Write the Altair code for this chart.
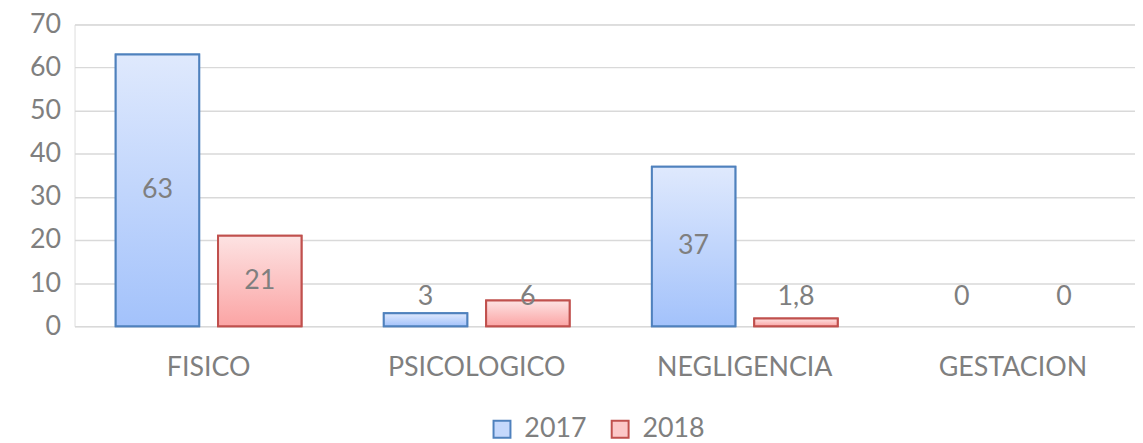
import altair as alt
import pandas as pd

categories = ["FISICO", "PSICOLOGICO", "NEGLIGENCIA", "GESTACION"]
years = ["2017", "2018"]
values_2017 = [63, 3, 37, 0]
values_2018 = [21, 6, 1.8, 0]
labels_2017 = ["63", "3", "37", "0"]
labels_2018 = ["21", "6", "1,8", "0"]
y_ticks = [0, 10, 20, 30, 40, 50, 60, 70]

rows = []
for cat, v, lab in zip(categories, values_2017, labels_2017):
    rows.append({"cat": cat, "year": "2017", "value": v, "label": lab})
for cat, v, lab in zip(categories, values_2018, labels_2018):
    rows.append({"cat": cat, "year": "2018", "value": v, "label": lab})
df = pd.DataFrame(rows)
# label position: centered inside tall bars, above short ones
df["pos"] = df["value"].apply(lambda v: max(v / 2.0, 6.7))

FONT = "Lato"
FS = 27
GRAY = "#7f7f7f"
blue_stroke = "#4f81bd"
red_stroke = "#c0504d"
grad_blue = {"gradient": "linear", "x1": 0, "y1": 0, "x2": 0, "y2": 1,
             "stops": [{"offset": 0, "color": "#dfe9fd"}, {"offset": 1, "color": "#a3c2fb"}]}
grad_red = {"gradient": "linear", "x1": 0, "y1": 0, "x2": 0, "y2": 1,
            "stops": [{"offset": 0, "color": "#fde3e3"}, {"offset": 1, "color": "#fba4a4"}]}

x_enc = alt.X("cat:N", sort=categories,
              scale=alt.Scale(paddingInner=0.307, paddingOuter=0.1313, align=0.585),
              axis=alt.Axis(title=None, domain=False, ticks=False, labelAngle=0,
                            labelFont=FONT, labelFontSize=FS, labelColor=GRAY,
                            labelPadding=29))
xo_enc = alt.XOffset("year:N", sort=years, scale=alt.Scale(paddingInner=0.1845, paddingOuter=0))
y_enc = alt.Y("value:Q", scale=alt.Scale(domain=[0, 70], nice=False),
              axis=alt.Axis(title=None, values=y_ticks, domain=False, ticks=False,
                            grid=True, gridColor="#d9d9d9", gridWidth=1.5,
                            labelFont=FONT, labelFontSize=FS, labelColor=GRAY,
                            labelPadding=14))

base = alt.Chart(df)

legend_bars = base.transform_filter("datum.value > 0").mark_bar(strokeWidth=2).encode(
    x=x_enc, xOffset=xo_enc, y=y_enc,
    fill=alt.Fill("year:N", sort=years, title=None,
                  scale=alt.Scale(domain=years, range=["#c5d8fc", "#fcc8c8"]),
                  legend=alt.Legend(orient="none", legendX=417, legendY=394,
                                    direction="horizontal", symbolType="square",
                                    symbolSize=290, symbolStrokeWidth=2,
                                    labelFont=FONT, labelFontSize=FS, labelColor=GRAY,
                                    labelOffset=9, columnPadding=20, padding=0)),
    stroke=alt.Stroke("year:N", sort=years, title=None,
                      scale=alt.Scale(domain=years, range=[blue_stroke, red_stroke])),
)

bars_2017 = base.transform_filter("datum.year == '2017' && datum.value > 0").mark_bar(
    fill=grad_blue, stroke=blue_stroke, strokeWidth=2).encode(x=x_enc, xOffset=xo_enc, y=y_enc)
bars_2018 = base.transform_filter("datum.year == '2018' && datum.value > 0").mark_bar(
    fill=grad_red, stroke=red_stroke, strokeWidth=2).encode(x=x_enc, xOffset=xo_enc, y=y_enc)

texts = base.mark_text(font=FONT, fontSize=FS, color=GRAY, baseline="middle").encode(
    x=x_enc, xOffset=xo_enc, y=alt.Y("pos:Q"), text="label:N")

chart = alt.layer(legend_bars, bars_2017, bars_2018, texts).properties(
    width=1068, height=304,
    padding={"left": 67, "top": 15, "right": 0, "bottom": 116},
    autosize=alt.AutoSizeParams(type="none"),
).configure_view(stroke=None).configure(background="white")

chart.save("out.html", embed_options={"renderer": "svg", "actions": False})
